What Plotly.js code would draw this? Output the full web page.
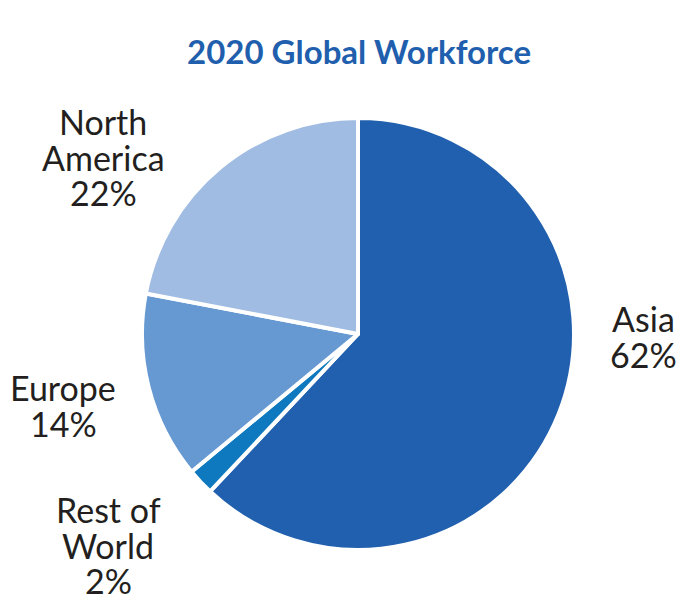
<!DOCTYPE html>
<html>
<head>
<meta charset="utf-8">
<script src="https://cdn.plot.ly/plotly-3.0.1.min.js"></script>
<style>html,body{margin:0;padding:0;background:#fff;}#chart{width:694px;height:600px;}</style>
</head>
<body>
<div id="chart"></div>
<script>
// Data
var regions = ["Asia", "Rest of World", "Europe", "North America"];
var shares = [62, 2, 14, 22];
var labelLines = [["Asia"], ["Rest of", "World"], ["Europe"], ["North", "America"]];
var sliceColors = ["#2160AE", "#0E79BE", "#6699D1", "#A0BCE2"];
var chartTitle = "2020 Global Workforce";

var W = 694, H = 600;
var cx = 358, cy = 334, R = 216;

// label block positions (pixel centre x, first-line baseline y)
var labelPos = [
  {x: 643, y: 332},
  {x: 108, y: 523},
  {x: 63, y: 401},
  {x: 103, y: 135}
];
var fontSize = 34, lineGap = 35.5;
var ascOffset = 0.387 * fontSize;

var annotations = [];
for (var i = 0; i < regions.length; i++) {
  var lines = labelLines[i].concat([shares[i] + "%"]);
  for (var j = 0; j < lines.length; j++) {
    var by = labelPos[i].y + j * lineGap;
    annotations.push({
      xref: "paper", yref: "paper",
      x: labelPos[i].x / W, y: 1 - (by - ascOffset) / H,
      xanchor: "center", yanchor: "middle",
      text: lines[j], showarrow: false,
      font: {family: "Lato, sans-serif", size: fontSize, color: "#231F20"}
    });
  }
}
var tfs = 33;
annotations.push({
  xref: "paper", yref: "paper",
  x: 359 / W, y: 1 - (64 - 0.387 * tfs) / H,
  xanchor: "center", yanchor: "middle",
  text: "<b>" + chartTitle + "</b>", showarrow: false,
  font: {family: "Lato, sans-serif", size: tfs, color: "#1F5FAD"}
});

var trace = {
  type: "pie",
  labels: regions,
  values: shares,
  sort: false,
  direction: "clockwise",
  rotation: 0,
  textinfo: "none",
  hoverinfo: "label+percent",
  marker: {colors: sliceColors, line: {color: "#ffffff", width: 4}},
  domain: {x: [(cx - R) / W, (cx + R) / W], y: [(H - cy - R) / H, (H - cy + R) / H]},
  showlegend: false
};

var layout = {
  width: W, height: H,
  margin: {l: 0, r: 0, t: 0, b: 0},
  paper_bgcolor: "#ffffff",
  showlegend: false,
  annotations: annotations
};

Plotly.newPlot("chart", [trace], layout, {displayModeBar: false, staticPlot: true});
</script>
</body>
</html>
